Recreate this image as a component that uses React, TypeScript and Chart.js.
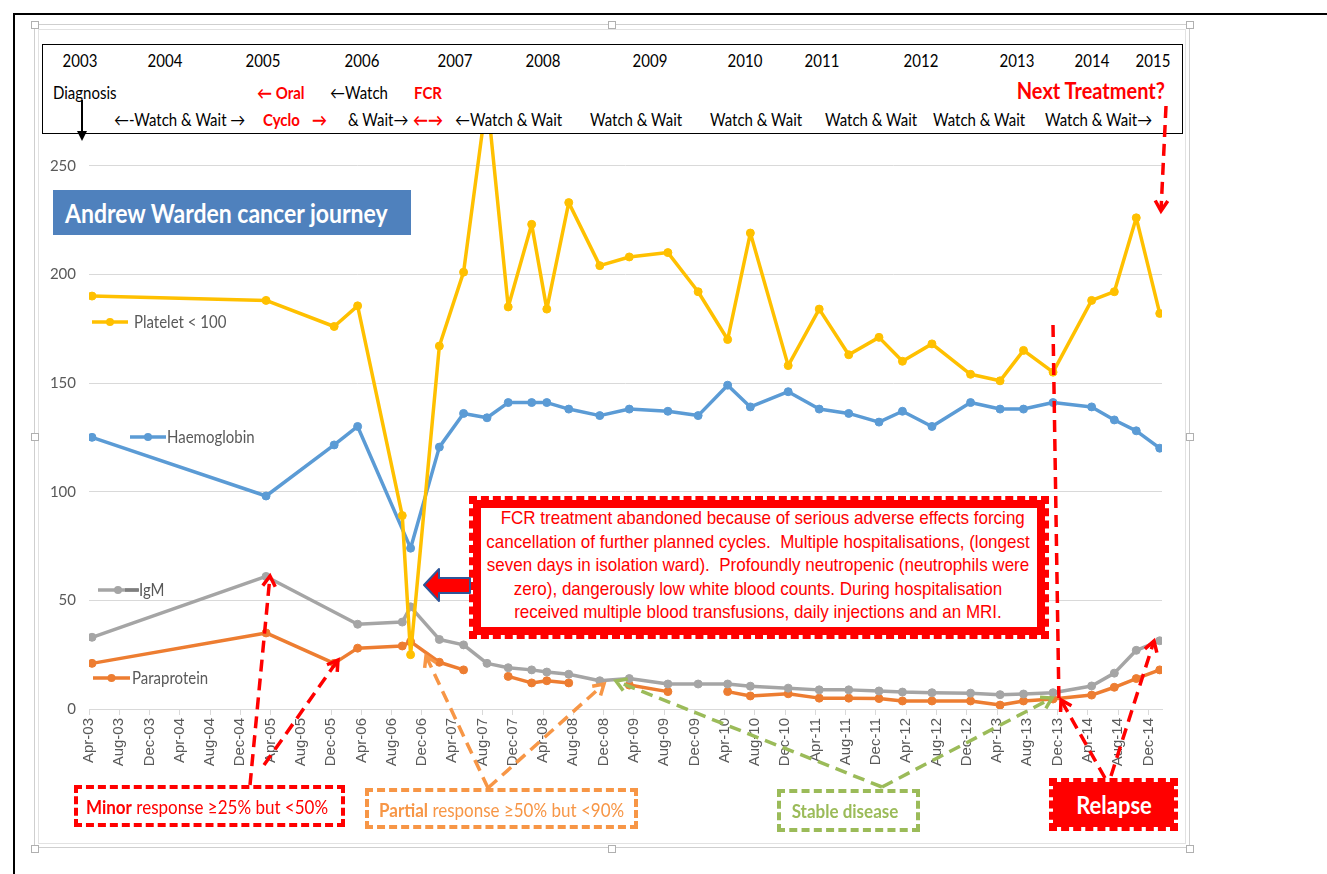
import React, { useEffect, useRef } from "react";
import { Chart, registerables } from "chart.js";

Chart.register(...registerables);

// Months counted from Jan 2003 (Jan-03 = 0)
const months = [3.4, 26.4, 35.4, 38.5, 44.4, 45.5, 49.3, 52.5, 55.6, 58.4, 61.5, 63.5, 66.4, 70.5, 74.4, 79.5, 83.5, 87.4, 90.4, 95.4, 99.5, 103.4, 107.4, 110.5, 114.4, 119.5, 123.4, 126.5, 130.4, 135.5, 138.5, 141.4, 144.5];
const platelet = [190, 188, 176, 185.5, 89, 25, 167, 201, 282, 185, 223, 184, 233, 204, 208, 210, 192, 170, 219, 158, 184, 163, 171, 160, 168, 154, 151, 165, 155, 188, 192, 226, 182];
const haemoglobin = [125, 98, 121.5, 130, null, 74, 120.5, 136, 134, 141, 141, 141, 138, 135, 138, 137, 135, 149, 139, 146, 138, 136, 132, 137, 130, 141, 138, 138, 141, 139, 133, 128, 120];
const igm = [33, 61, null, 39, 40, 47, 32, 29.5, 21, 19, 18, 17, 16, 13, 14, 11.5, 11.5, 11.5, 10.5, 9.6, 8.8, 8.8, 8.3, 7.8, 7.5, 7.3, 6.6, 6.9, 7.5, 10.6, 16.5, 27, 31.4];
const paraprotein = [21, 35, 21, 28, 29, 31, 21.5, 18, null, 15, 12, 13, 12, null, 11, 8, null, 8, 6, 7, 5, 5, 4.8, 3.7, 3.7, 3.7, 1.8, 3.7, 4.6, 6.4, 10, 14, 18];

const tickMonths = [3, 7, 11, 15, 19, 23, 27, 31, 35, 39, 43, 47, 51, 55, 59, 63, 67, 71, 75, 79, 83, 87, 91, 95, 99, 103, 107, 111, 115, 119, 123, 127, 131, 135, 139, 143];
const tickLabels = ["Apr-03", "Aug-03", "Dec-03", "Apr-04", "Aug-04", "Dec-04", "Apr-05", "Aug-05", "Dec-05", "Apr-06", "Aug-06", "Dec-06", "Apr-07", "Aug-07", "Dec-07", "Apr-08", "Aug-08", "Dec-08", "Apr-09", "Aug-09", "Dec-09", "Apr-10", "Aug-10", "Dec-10", "Apr-11", "Aug-11", "Dec-11", "Apr-12", "Aug-12", "Dec-12", "Apr-13", "Aug-13", "Dec-13", "Apr-14", "Aug-14", "Dec-14"];
const yTicks = [0, 50, 100, 150, 200, 250, 300];

const years = ["2003", "2004", "2005", "2006", "2007", "2008", "2009", "2010", "2011", "2012", "2013", "2014", "2015"];
const yearX = [80, 165, 263, 362, 455, 543, 650, 745, 822, 921, 1017, 1092, 1153];

const YELLOW = "#FFC000";
const BLUE = "#5B9BD5";
const GRAY = "#A5A5A5";
const ORANGE = "#ED7D31";
const RED = "#FF0000";
const LORANGE = "#F79646";
const GREEN = "#9BBB59";
const CAL = "Lato, 'Open Sans', sans-serif";
const ARIAL = "'Liberation Sans', Arial, sans-serif";

function Txt(props: { x: number; y: number; anchor?: string; style?: any; children?: any }) {
  const { x, y, anchor = "left", style = {}, children } = props;
  const tx = anchor === "center" ? "-50%" : anchor === "right" ? "-100%" : "0";
  return (
    <div
      style={{
        position: "absolute",
        left: x,
        top: y,
        transform: `translate(${tx},-50%) scaleY(1.12)`,
        whiteSpace: "pre",
        lineHeight: 1.15,
        fontFamily: CAL,
        fontSize: 15,
        color: "#000",
        ...style,
      }}
    >
      {children}
    </div>
  );
}

function Arrow(props: { x1: number; y1: number; x2: number; y2: number; color: string; dash?: string; w?: number; head?: number }) {
  const { x1, y1, x2, y2, color, dash = "12 7", w = 3.5, head = 12 } = props;
  const ang = Math.atan2(y2 - y1, x2 - x1);
  const a1 = ang + Math.PI - 0.55;
  const a2 = ang + Math.PI + 0.55;
  const p1 = `${x2 + head * Math.cos(a1)},${y2 + head * Math.sin(a1)}`;
  const p2 = `${x2 + head * Math.cos(a2)},${y2 + head * Math.sin(a2)}`;
  return (
    <g>
      <line x1={x1} y1={y1} x2={x2} y2={y2} stroke={color} strokeWidth={w} strokeDasharray={dash} />
      <polyline points={`${p1} ${x2},${y2} ${p2}`} fill="none" stroke={color} strokeWidth={w} />
    </g>
  );
}

function LegendMark(props: { x1: number; x2: number; y: number; color: string }) {
  const { x1, x2, y, color } = props;
  return (
    <g>
      <line x1={x1} y1={y} x2={x2} y2={y} stroke={color} strokeWidth={3.5} />
      <circle cx={(x1 + x2) / 2} cy={y} r={4} fill={color} />
    </g>
  );
}

export default function App() {
  const ref = useRef<HTMLCanvasElement | null>(null);

  useEffect(() => {
    if (!ref.current) return;
    const mk = (vals: (number | null)[]) => months.map((m, i) => ({ x: m, y: vals[i] }));
    const ds = (label: string, vals: (number | null)[], color: string, span: boolean) => ({
      label,
      data: mk(vals),
      borderColor: color,
      backgroundColor: color,
      borderWidth: 3.5,
      pointRadius: 4,
      pointBorderWidth: 1,
      pointBorderColor: color,
      pointBackgroundColor: color,
      borderJoinStyle: "round",
      borderCapStyle: "round",
      spanGaps: span,
      tension: 0,
    });
    const chart = new Chart(ref.current, {
      type: "line",
      data: {
        datasets: [
          ds("Platelet < 100", platelet, YELLOW, true),
          ds("Haemoglobin", haemoglobin, BLUE, true),
          ds("IgM", igm, GRAY, true),
          ds("Paraprotein", paraprotein, ORANGE, false),
        ] as any,
      },
      options: {
        animation: false,
        responsive: false,
        devicePixelRatio: 1,
        layout: { padding: { top: 30, right: 28, left: 0, bottom: 0 } },
        plugins: { legend: { display: false }, tooltip: { enabled: false } },
        scales: {
          x: {
            type: "linear",
            min: 3,
            max: 144.8,
            afterBuildTicks: (s: any) => {
              s.ticks = tickMonths.map((v) => ({ value: v }));
            },
            afterFit: (s: any) => {
              s.height = 139;
            },
            ticks: {
              autoSkip: false,
              maxRotation: 90,
              minRotation: 90,
              padding: 3,
              color: "#595959",
              font: { family: "'Liberation Sans', Arial, sans-serif", size: 15 },
              callback: (v: any) => {
                const i = tickMonths.indexOf(Number(v));
                return i >= 0 ? tickLabels[i] : "";
              },
            },
            grid: { drawOnChartArea: false, drawTicks: true, tickLength: 6, color: "#d9d9d9" },
            border: { display: true, color: "#d9d9d9", width: 1 },
          },
          y: {
            min: 0,
            max: 300,
            afterBuildTicks: (s: any) => {
              s.ticks = yTicks.map((v) => ({ value: v }));
            },
            afterFit: (s: any) => {
              s.width = 54;
            },
            ticks: {
              padding: 13,
              color: "#595959",
              font: { family: "Lato, sans-serif", size: 15 },
            },
            grid: { color: "#d9d9d9", drawTicks: false, lineWidth: 1 },
            border: { display: false },
          },
        },
      } as any,
    });
    return () => chart.destroy();
  }, []);

  const fcrLines = [
    "  FCR treatment abandoned because of serious adverse effects forcing",
    "cancellation of further planned cycles.  Multiple hospitalisations, (longest",
    "seven days in isolation ward).  Profoundly neutropenic (neutrophils were",
    "zero), dangerously low white blood counts. During hospitalisation",
    "received multiple blood transfusions, daily injections and an MRI.",
  ];
  const fcrY = [518, 542, 565, 589, 612];

  const handles = [
    [31, 21], [608, 21], [1186, 21],
    [31, 433], [1186, 433],
    [31, 845], [608, 845], [1186, 845],
  ];

  return (
    <div style={{ position: "absolute", left: 0, top: 0, width: 1327, height: 874, background: "#fff", overflow: "hidden" }}>
      {/* outer document frame */}
      <div style={{ position: "absolute", left: 13, top: 13, width: 1314, height: 2, background: "#000" }} />
      <div style={{ position: "absolute", left: 13, top: 13, width: 2, height: 861, background: "#000" }} />

      {/* chart object frame */}
      <div style={{ position: "absolute", left: 34, top: 24, width: 1156, height: 824, border: "1px solid #cfcfcf", boxSizing: "border-box" }} />
      <div style={{ position: "absolute", left: 38, top: 29, width: 1148, height: 815, border: "1px solid #e2e2e2", boxSizing: "border-box" }} />
      {handles.map(([hx, hy], i) => (
        <div key={i} style={{ position: "absolute", left: hx, top: hy, width: 6, height: 6, border: "1px solid #b0b0b0", background: "#fff" }} />
      ))}

      <canvas ref={ref} width={1155} height={821} style={{ position: "absolute", left: 35, top: 27, width: 1155, height: 821 }} />

      {/* header box */}
      <div style={{ position: "absolute", left: 42, top: 44, width: 1141, height: 90, border: "1px solid #000", background: "#fff", boxSizing: "border-box" }} />
      {years.map((y, i) => (
        <Txt key={y} x={yearX[i]} y={61} anchor="center">{y}</Txt>
      ))}
      <Txt x={53} y={93}>Diagnosis</Txt>
      <Txt x={257} y={93} style={{ color: RED, fontWeight: "bold" }}>{"← Oral"}</Txt>
      <Txt x={330} y={93}>{"←Watch"}</Txt>
      <Txt x={414} y={93} style={{ color: RED, fontWeight: "bold" }}>FCR</Txt>
      <Txt x={1165} y={91} anchor="right" style={{ color: RED, fontWeight: "bold", fontSize: 20 }}>Next Treatment?</Txt>

      <Txt x={114} y={120}>{"←-Watch & Wait →"}</Txt>
      <Txt x={263} y={120} style={{ color: RED, fontWeight: "bold" }}>Cyclo</Txt>
      <Txt x={312} y={120} style={{ color: RED, fontWeight: "bold" }}>{"→"}</Txt>
      <Txt x={348} y={120}>{"& Wait→"}</Txt>
      <Txt x={413} y={120} style={{ color: RED, fontWeight: "bold" }}>{"←→"}</Txt>
      <Txt x={455} y={120}>{"←Watch & Wait"}</Txt>
      <Txt x={590} y={120}>{"Watch & Wait"}</Txt>
      <Txt x={710} y={120}>{"Watch & Wait"}</Txt>
      <Txt x={825} y={120}>{"Watch & Wait"}</Txt>
      <Txt x={933} y={120}>{"Watch & Wait"}</Txt>
      <Txt x={1045} y={120}>{"Watch & Wait→"}</Txt>

      {/* title */}
      <div style={{ position: "absolute", left: 53, top: 190, width: 358, height: 45, background: "#4F81BD" }} />
      <Txt x={65} y={213} style={{ color: "#fff", fontWeight: "bold", fontSize: 23 }}>Andrew Warden cancer journey</Txt>

      {/* legend entries inside plot */}
      <Txt x={134} y={322} style={{ color: "#595959" }}>{"Platelet < 100"}</Txt>
      <Txt x={167} y={437} style={{ color: "#595959" }}>Haemoglobin</Txt>
      <Txt x={139} y={590} style={{ color: "#595959" }}>IgM</Txt>
      <Txt x={132} y={678} style={{ color: "#595959" }}>Paraprotein</Txt>

      {/* FCR box */}
      <div
        style={{
          position: "absolute",
          left: 473,
          top: 500,
          width: 572,
          height: 135,
          boxSizing: "border-box",
          border: "8px solid " + RED,
          outline: "4px dashed " + RED,
          outlineOffset: 0,
          background: "#fff",
        }}
      />
      {fcrLines.map((l, i) => (
        <Txt key={i} x={758} y={fcrY[i]} anchor="center" style={{ fontFamily: ARIAL, color: RED, fontSize: 17 }}>{l}</Txt>
      ))}

      {/* response boxes */}
      <div style={{ position: "absolute", left: 74, top: 785, width: 271, height: 42, boxSizing: "border-box", border: "4px dashed " + RED }} />
      <Txt x={86} y={807} style={{ color: RED, fontSize: 17 }}>
        <b>Minor</b> response ≥25% but &lt;50%
      </Txt>
      <div style={{ position: "absolute", left: 365, top: 788, width: 273, height: 41, boxSizing: "border-box", border: "4px dashed " + LORANGE }} />
      <Txt x={379} y={810} style={{ color: LORANGE, fontSize: 17 }}>
        <b>Partial</b> response ≥50% but &lt;90%
      </Txt>
      <div style={{ position: "absolute", left: 777, top: 789, width: 143, height: 43, boxSizing: "border-box", border: "4px dashed " + GREEN }} />
      <Txt x={845} y={811} anchor="center" style={{ color: GREEN, fontWeight: "bold", fontSize: 17 }}>Stable disease</Txt>

      <div
        style={{
          position: "absolute",
          left: 1053,
          top: 782,
          width: 121,
          height: 45,
          background: RED,
          outline: "4px dashed " + RED,
          outlineOffset: 0,
        }}
      />
      <Txt x={1114} y={805} anchor="center" style={{ color: "#fff", fontWeight: "bold", fontSize: 22 }}>Relapse</Txt>

      {/* arrows and markers */}
      <svg width={1327} height={874} style={{ position: "absolute", left: 0, top: 0, pointerEvents: "none" }}>
        <LegendMark x1={92} x2={128} y={322} color={YELLOW} />
        <LegendMark x1={130} x2={166} y={437} color={BLUE} />
        <LegendMark x1={98} x2={138} y={590} color={GRAY} />
        <line x1={125} y1={590} x2={139} y2={590} stroke="#7f7f7f" strokeWidth={3.5} />
        <LegendMark x1={93} x2={130} y={678} color={ORANGE} />

        {/* diagnosis arrow */}
        <line x1={82} y1={100} x2={82} y2={132} stroke="#000" strokeWidth={2} />
        <polygon points="77,131 87,131 82,141" fill="#000" />

        {/* next treatment */}
        <Arrow x1={1166} y1={106} x2={1161} y2={211} color={RED} />

        {/* block arrow */}
        <polygon points="424,585 439,569 439,578 470,578 470,593 439,593 439,601" fill={RED} stroke="#2F5597" strokeWidth={2} strokeLinejoin="round" />

        {/* minor */}
        <Arrow x1={250} y1={785} x2={270} y2={576} color={RED} />
        <Arrow x1={264} y1={765} x2={338} y2={660} color={RED} />
        {/* partial */}
        <Arrow x1={488} y1={788} x2={426} y2={656} color={LORANGE} />
        <Arrow x1={488} y1={788} x2={604} y2={684} color={LORANGE} />
        {/* stable */}
        <Arrow x1={882} y1={787} x2={616} y2={681} color={GREEN} />
        <Arrow x1={882} y1={787} x2={1052} y2={698} color={GREEN} />
        {/* relapse */}
        <line x1={1053} y1={325} x2={1059} y2={705} stroke={RED} strokeWidth={3.5} strokeDasharray="12 7" />
        <Arrow x1={1105} y1={778} x2={1061} y2={700} color={RED} />
        <Arrow x1={1111} y1={776} x2={1154} y2={641} color={RED} />
      </svg>
    </div>
  );
}
